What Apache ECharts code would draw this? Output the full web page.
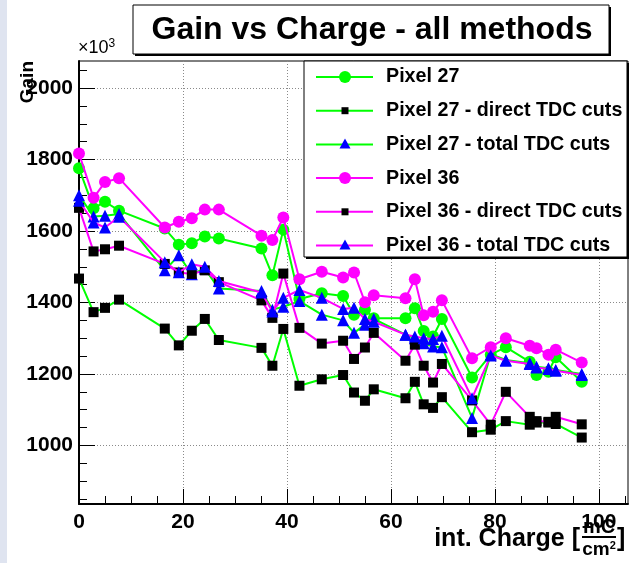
<!DOCTYPE html>
<html>
<head>
<meta charset="utf-8">
<script src="https://cdn.jsdelivr.net/npm/echarts@6/dist/echarts.min.js"></script>
<style>
html,body{margin:0;padding:0;background:#fff;}
#chart{width:630px;height:563px;}
</style>
</head>
<body>
<div id="chart"></div>
<script>
// ---- data ----
var charge = [0, 2.8, 5, 7.7, 16.5, 19.2, 21.7, 24.2, 26.9, 35.1, 37.2, 39.3, 42.4, 46.7, 50.8, 52.9, 55, 56.7, 62.8, 64.6, 66.3, 68.1, 69.8, 75.6, 79.2, 82.1, 86.7, 88, 90.3, 91.7, 96.7];
var pixel27 = [1776, 1664, 1682, 1657, 1607, 1562, 1566, 1585, 1579, 1551, 1476, 1604, 1410, 1426, 1418, 1366, 1380, 1356, 1356, 1384, 1320, 1305, 1354, 1190, 1254, 1275, 1234, 1197, 1206, 1247, 1178];
var pixel27direct = [1467, 1373, 1385, 1408, 1327, 1280, 1321, 1354, 1295, 1273, 1223, 1326, 1167, 1185, 1197, 1148, 1125, 1157, 1132, 1178, 1115, 1105, 1135, 1037, 1044, 1068, 1058, 1064, 1064, 1060, 1022];
var pixel27total = [1700, 1641, 1643, 1648, 1490, 1532, 1479, 1495, 1439, 1432, 1380, 1388, 1404, 1366, 1350, 1315, 1338, 1354, 1310, 1300, 1286, 1277, 1275, 1077, 1255, 1239, 1230, 1220, 1216, 1211, 1200];
var pixel36 = [1817, 1693, 1737, 1748, 1610, 1626, 1636, 1660, 1660, 1587, 1575, 1638, 1465, 1486, 1470, 1484, 1401, 1420, 1412, 1465, 1364, 1374, 1406, 1244, 1275, 1300, 1279, 1272, 1254, 1268, 1232];
var pixel36direct = [1665, 1543, 1549, 1559, 1508, 1484, 1480, 1490, 1457, 1406, 1357, 1481, 1329, 1285, 1293, 1242, 1274, 1315, 1237, 1282, 1223, 1176, 1228, 1126, 1058, 1150, 1080, 1068, 1066, 1080, 1059];
var pixel36total = [1685, 1624, 1610, 1640, 1513, 1485, 1507, 1500, 1460, 1428, 1375, 1413, 1435, 1413, 1382, 1385, 1354, 1346, 1310, 1305, 1300, 1298, 1307, 1132, 1252, 1237, 1228, 1218, 1214, 1209, 1197];
var seriesNames = ['Pixel 27', 'Pixel 27 - direct TDC cuts', 'Pixel 27 - total TDC cuts', 'Pixel 36', 'Pixel 36 - direct TDC cuts', 'Pixel 36 - total TDC cuts'];
var xTickLabels = [0, 20, 40, 60, 80, 100];
var yTickLabels = [1000, 1200, 1400, 1600, 1800, 2000];
var titleText = 'Gain vs Charge - all methods';

// ---- styles ----
var FONT = '"Liberation Sans", Arial, sans-serif';
var GREEN = '#00ff00', MAGENTA = '#ff00ff', BLUE = '#0000ff', BLACK = '#000000';
var seriesValues = [pixel27, pixel27direct, pixel27total, pixel36, pixel36direct, pixel36total];
var lineColors = [GREEN, GREEN, GREEN, MAGENTA, MAGENTA, MAGENTA];
var markerColors = [GREEN, BLACK, BLUE, MAGENTA, BLACK, BLUE];
var symbols = ['circle', 'rect', 'triangle', 'circle', 'rect', 'triangle'];
var symbolSizes = [12, 10, 12, 12, 10, 12];

var Y_MIN = 836, Y_MAX = 2076, X_MIN = 0, X_MAX = 105.6;
var yMinor = [];
for (var v = 850; v <= 2050; v += 50) yMinor.push(v);
var xMinor = [];
for (var u = 5; u <= 105; u += 5) xMinor.push(u);

var series = seriesValues.map(function (vals, i) {
  return {
    name: seriesNames[i],
    type: 'line',
    xAxisIndex: 0, yAxisIndex: 0,
    data: charge.map(function (x, k) { return [x, vals[k]]; }),
    symbol: symbols[i],
    symbolSize: symbolSizes[i],
    showSymbol: true,
    lineStyle: { color: lineColors[i], width: 2 },
    itemStyle: { color: markerColors[i] },
    z: 3 + i,
    animation: false
  };
});

// ---- legend drawn as graphic ----
var legendX = 304, legendY = 61, legendW = 323, legendH = 196;
var graphics = [
  { type: 'rect', shape: { x: 0, y: 0, width: 7, height: 563 }, style: { fill: '#dfe4f0' }, z: 1 },
  // title box
  { type: 'rect', shape: { x: 135, y: 7, width: 476, height: 49 }, style: { fill: '#000' }, z: 100 },
  { type: 'rect', shape: { x: 133, y: 5, width: 476, height: 49 }, style: { fill: '#fff', stroke: '#000', lineWidth: 1 }, z: 101 },
  { type: 'text', x: 372, y: 30, style: { text: titleText, font: 'bold 32px ' + FONT, fill: '#000', textAlign: 'center', textVerticalAlign: 'middle' }, z: 102 },
  // legend box
  { type: 'rect', shape: { x: legendX + 2, y: legendY + 2, width: legendW, height: legendH }, style: { fill: '#000' }, z: 100 },
  { type: 'rect', shape: { x: legendX, y: legendY, width: legendW, height: legendH }, style: { fill: '#fff', stroke: '#000', lineWidth: 1 }, z: 101 },
  // x10^3
  { type: 'text', x: 78, y: 48, style: { text: '×10{s|3}', rich: { s: { font: '12px ' + FONT, verticalAlign: 'top', padding: [0, 0, 8, 0] } }, font: '18px ' + FONT, fill: '#000', textAlign: 'left', textVerticalAlign: 'middle' }, z: 102 },
  // y name
  { type: 'text', x: 28, y: 61, rotation: Math.PI / 2, style: { text: 'Gain', font: 'bold 19px ' + FONT, fill: '#000', textAlign: 'right', textVerticalAlign: 'middle' }, z: 102 },
  // x name
  { type: 'text', x: 580, y: 539, style: { text: 'int. Charge [', font: 'bold 25px ' + FONT, fill: '#000', textAlign: 'right', textVerticalAlign: 'middle' }, z: 102 },
  { type: 'text', x: 599, y: 527, style: { text: 'mC', font: 'bold 20px ' + FONT, fill: '#000', textAlign: 'center', textVerticalAlign: 'middle' }, z: 102 },
  { type: 'line', shape: { x1: 582, y1: 537, x2: 616, y2: 537 }, style: { stroke: '#000', lineWidth: 2 }, z: 102 },
  { type: 'text', x: 599, y: 550, style: { text: 'cm{s|2}', rich: { s: { font: 'bold 11px ' + FONT, verticalAlign: 'top', padding: [0, 0, 8, 0] } }, font: 'bold 19px ' + FONT, fill: '#000', textAlign: 'center', textVerticalAlign: 'middle' }, z: 102 },
  { type: 'text', x: 617, y: 539, style: { text: ']', font: 'bold 25px ' + FONT, fill: '#000', textAlign: 'left', textVerticalAlign: 'middle' }, z: 102 }
];
seriesNames.forEach(function (name, i) {
  var cy = 77 + i * 33.7;
  graphics.push({ type: 'line', shape: { x1: 316, y1: cy, x2: 373, y2: cy }, style: { stroke: lineColors[i], lineWidth: 2 }, z: 103 });
  if (symbols[i] === 'circle') {
    graphics.push({ type: 'circle', shape: { cx: 345, cy: cy, r: 6 }, style: { fill: markerColors[i] }, z: 104 });
  } else if (symbols[i] === 'rect') {
    graphics.push({ type: 'rect', shape: { x: 341.5, y: cy - 3.5, width: 7, height: 7 }, style: { fill: markerColors[i] }, z: 104 });
  } else {
    graphics.push({ type: 'polygon', shape: { points: [[345, cy - 6], [350.5, cy + 4], [339.5, cy + 4]] }, style: { fill: markerColors[i] }, z: 104 });
  }
  graphics.push({ type: 'text', x: 386, y: cy, style: { text: name, font: 'bold 19.7px ' + FONT, fill: '#000', textAlign: 'left', textVerticalAlign: 'middle' }, z: 104 });
});

var labelStyle = { fontFamily: FONT, fontWeight: 'bold', fontSize: 21, color: '#000', formatter: function (val) { return String(val); } };
var gridLine = { show: true, lineStyle: { color: '#8a8a8a', width: 1, type: [1, 2] } };

var option = {
  backgroundColor: '#fff',
  animation: false,
  grid: { left: 79, top: 61, right: 2, bottom: 59, show: true, borderColor: '#000', borderWidth: 1, backgroundColor: 'transparent' },
  xAxis: [
    { type: 'value', min: X_MIN, max: X_MAX, interval: 20, position: 'bottom',
      axisLine: { show: true, onZero: false, lineStyle: { color: '#000', width: 2 } },
      axisTick: { show: true, inside: true, length: 15, customValues: xTickLabels, lineStyle: { color: '#000', width: 1 } },
      axisLabel: Object.assign({ customValues: xTickLabels, margin: 8 }, labelStyle),
      splitLine: gridLine },
    { type: 'value', min: X_MIN, max: X_MAX, position: 'bottom',
      axisLine: { show: false },
      axisTick: { show: true, inside: true, length: 8, customValues: xMinor, lineStyle: { color: '#000', width: 1 } },
      axisLabel: { show: false }, splitLine: { show: false } }
  ],
  yAxis: [
    { type: 'value', min: Y_MIN, max: Y_MAX, position: 'left',
      axisLine: { show: true, onZero: false, lineStyle: { color: '#000', width: 2 } },
      axisTick: { show: true, inside: true, length: 16, customValues: yTickLabels, lineStyle: { color: '#000', width: 1 } },
      axisLabel: Object.assign({ customValues: yTickLabels, margin: 6 }, labelStyle),
      splitLine: gridLine },
    { type: 'value', min: Y_MIN, max: Y_MAX, position: 'left',
      axisLine: { show: false },
      axisTick: { show: true, inside: true, length: 8, customValues: yMinor, lineStyle: { color: '#000', width: 1 } },
      axisLabel: { show: false }, splitLine: { show: false } }
  ],
  series: series,
  graphic: graphics
};

var chart = echarts.init(document.getElementById('chart'), null, { renderer: 'canvas' });
chart.setOption(option);
</script>
</body>
</html>
